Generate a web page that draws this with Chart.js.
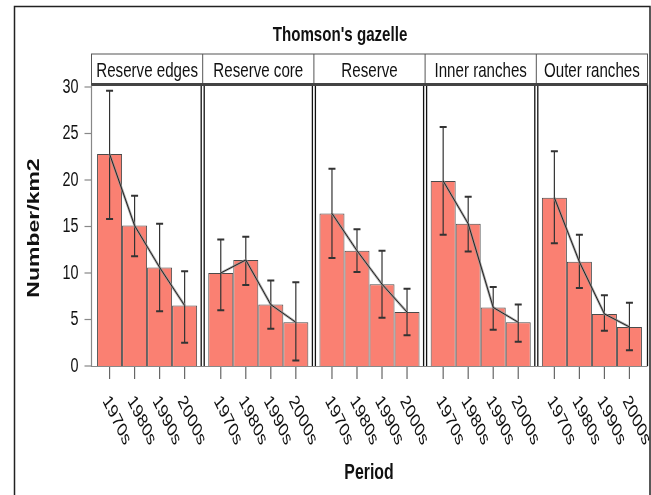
<!DOCTYPE html>
<html>
<head>
<meta charset="utf-8">
<script src="https://cdn.jsdelivr.net/npm/chart.js@4"></script>
<style>
  body { margin: 0; background: #fff; }
  canvas { display: block; }
</style>
</head>
<body>
<canvas id="gazelleChart" width="651" height="495"></canvas>
<script>
const sites = ['Reserve edges', 'Reserve core', 'Reserve', 'Inner ranches', 'Outer ranches'];
const periods = ['1970s', '1980s', '1990s', '2000s'];

const mean1970s = [22.8, 10.0, 16.4, 19.9, 18.1];
const mean1980s = [15.1, 11.4, 12.4, 15.3, 11.2];
const mean1990s = [10.6, 6.6, 8.8, 6.3, 5.6];
const mean2000s = [6.5, 4.7, 5.8, 4.7, 4.2];

const low1970s = [15.8, 6.0, 11.6, 14.1, 13.2];
const high1970s = [29.6, 13.6, 21.2, 25.7, 23.1];
const low1980s = [11.8, 8.7, 10.1, 12.3, 8.4];
const high1980s = [18.3, 13.9, 14.7, 18.2, 14.1];
const low1990s = [5.9, 4.0, 5.2, 3.9, 3.8];
const high1990s = [15.3, 9.2, 12.4, 8.5, 7.6];
const low2000s = [2.5, 0.6, 3.3, 2.6, 1.7];
const high2000s = [10.2, 9.0, 8.3, 6.6, 6.8];

const yTicks = [0, 5, 10, 15, 20, 25, 30];

const means = [mean1970s, mean1980s, mean1990s, mean2000s];
const lows = [low1970s, low1980s, low1990s, low2000s];
const highs = [high1970s, high1980s, high1990s, high2000s];

const SQUISH = 0.72;
const ARIAL = '"Liberation Sans", Arial, sans-serif';

function squishText(ctx, text, x, y, font, angle, align, baseline) {
    ctx.save();
    ctx.translate(x, y);
    ctx.scale(SQUISH, 1);
    ctx.rotate(angle);
    ctx.font = font;
    ctx.textAlign = align;
    ctx.textBaseline = baseline;
    ctx.fillStyle = '#111';
    ctx.fillText(text, 0, 0);
    ctx.restore();
}

const latticePlugin = {
    id: 'lattice',
    beforeDraw(chart) {
        const ctx = chart.ctx;
        ctx.save();
        ctx.fillStyle = '#fff';
        ctx.fillRect(0, 0, chart.width, chart.height);
        ctx.strokeStyle = '#222';
        ctx.lineWidth = 1.5;
        ctx.beginPath();
        ctx.moveTo(14.5, chart.height + 2);
        ctx.lineTo(14.5, 6.5);
        ctx.lineTo(650, 6.5);
        ctx.lineTo(650, chart.height + 2);
        ctx.stroke();
        ctx.restore();
    },
    afterDatasetsDraw(chart) {
        const ctx = chart.ctx;
        const area = chart.chartArea;
        const y = chart.scales.y;
        const x = chart.scales.x;
        const catW = (area.right - area.left) / sites.length;
        const stripTop = 54, stripBottom = 84.5;

        ctx.save();

        // error bars
        ctx.strokeStyle = '#333';
        for (let p = 0; p < periods.length; p++) {
            const meta = chart.getDatasetMeta(p);
            meta.data.forEach((bar, i) => {
                const yl = y.getPixelForValue(lows[p][i]);
                const yh = y.getPixelForValue(highs[p][i]);
                ctx.lineWidth = 1.2;
                ctx.beginPath();
                ctx.moveTo(bar.x, yl);
                ctx.lineTo(bar.x, yh);
                ctx.stroke();
                ctx.lineWidth = 2;
                ctx.beginPath();
                ctx.moveTo(bar.x - 3.5, yl);
                ctx.lineTo(bar.x + 3.5, yl);
                ctx.moveTo(bar.x - 3.5, yh);
                ctx.lineTo(bar.x + 3.5, yh);
                ctx.stroke();
            });
        }

        // trend line through bar tops
        sites.forEach((s, i) => {
            const pts = periods.map((pr, p) => chart.getDatasetMeta(p).data[i]);
            ctx.strokeStyle = 'rgba(150,150,150,0.8)';
            ctx.lineWidth = 2.5;
            ctx.beginPath();
            pts.forEach((b, k) => k ? ctx.lineTo(b.x, b.y) : ctx.moveTo(b.x, b.y));
            ctx.stroke();
            ctx.strokeStyle = '#222';
            ctx.lineWidth = 1;
            ctx.beginPath();
            pts.forEach((b, k) => k ? ctx.lineTo(b.x, b.y) : ctx.moveTo(b.x, b.y));
            ctx.stroke();
        });

        // axes
        ctx.strokeStyle = '#888';
        ctx.lineWidth = 1.2;
        ctx.beginPath();
        ctx.moveTo(area.left, area.top - 2);
        ctx.lineTo(area.left, area.bottom + 0.5);
        ctx.lineTo(area.right, area.bottom + 0.5);
        ctx.stroke();

        // panel separators
        ctx.strokeStyle = '#111';
        ctx.lineWidth = 1.3;
        for (let k = 1; k < sites.length; k++) {
            const bx = area.left + k * catW;
            ctx.beginPath();
            ctx.moveTo(bx - 1.5, stripBottom);
            ctx.lineTo(bx - 1.5, area.bottom);
            ctx.moveTo(bx + 1.5, stripBottom);
            ctx.lineTo(bx + 1.5, area.bottom);
            ctx.stroke();
        }
        ctx.beginPath();
        ctx.moveTo(area.right, stripBottom);
        ctx.lineTo(area.right, area.bottom);
        ctx.stroke();

        // strips
        ctx.strokeStyle = '#555';
        ctx.lineWidth = 1;
        ctx.strokeRect(area.left, stripTop, area.right - area.left, stripBottom - stripTop);
        for (let k = 1; k < sites.length; k++) {
            const bx = area.left + k * catW;
            ctx.beginPath();
            ctx.moveTo(bx, stripTop);
            ctx.lineTo(bx, stripBottom);
            ctx.stroke();
        }
        ctx.strokeStyle = '#444';
        ctx.lineWidth = 3;
        ctx.beginPath();
        ctx.moveTo(area.left, stripBottom);
        ctx.lineTo(area.right, stripBottom);
        ctx.stroke();
        sites.forEach((s, i) => {
            squishText(ctx, s, x.getPixelForValue(i), 71, '21px ' + ARIAL, 0, 'center', 'middle');
        });

        // y ticks
        ctx.strokeStyle = '#888';
        ctx.lineWidth = 1.2;
        yTicks.forEach(v => {
            const py = y.getPixelForValue(v);
            ctx.beginPath();
            ctx.moveTo(area.left - 7, py);
            ctx.lineTo(area.left, py);
            ctx.stroke();
            squishText(ctx, String(v), area.left - 13, py, '20px ' + ARIAL, 0, 'right', 'middle');
        });

        // period ticks and labels
        for (let p = 0; p < periods.length; p++) {
            chart.getDatasetMeta(p).data.forEach(bar => {
                ctx.strokeStyle = '#666';
                ctx.lineWidth = 1.2;
                ctx.beginPath();
                ctx.moveTo(bar.x, area.bottom + 1);
                ctx.lineTo(bar.x, area.bottom + 13);
                ctx.stroke();
                squishText(ctx, periods[p], bar.x - 4, 398, '20px ' + ARIAL, 56 * Math.PI / 180, 'left', 'middle');
            });
        }

        // titles
        squishText(ctx, "Thomson's gazelle", 340, 35, 'bold 21px ' + ARIAL, 0, 'center', 'middle');
        squishText(ctx, 'Period', 369, 473, 'bold 22px ' + ARIAL, 0, 'center', 'middle');
        squishText(ctx, 'Number/km2', 34, 228, 'bold 23px ' + ARIAL, -Math.PI / 2, 'center', 'middle');

        ctx.restore();
    }
};

const ctx = document.getElementById('gazelleChart').getContext('2d');
const chart = new Chart(ctx, {
    type: 'bar',
    data: {
        labels: sites,
        datasets: periods.map((p, k) => ({
            label: p,
            data: means[k],
            backgroundColor: '#FA8072',
            borderColor: '#4a4a4a',
            borderWidth: 1,
            categoryPercentage: 0.9,
            barPercentage: 1.0
        }))
    },
    options: {
        responsive: false,
        animation: false,
        layout: { padding: { top: 87, right: 3.5, bottom: 129, left: 0 } },
        plugins: {
            legend: { display: false },
            tooltip: { enabled: false },
            title: { display: false }
        },
        scales: {
            x: { display: false },
            y: {
                min: 0,
                max: 30,
                ticks: { display: false, stepSize: 5 },
                grid: { display: false },
                border: { display: false },
                afterFit(scale) { scale.width = 91.5; }
            }
        }
    },
    plugins: [latticePlugin]
});
</script>
</body>
</html>
